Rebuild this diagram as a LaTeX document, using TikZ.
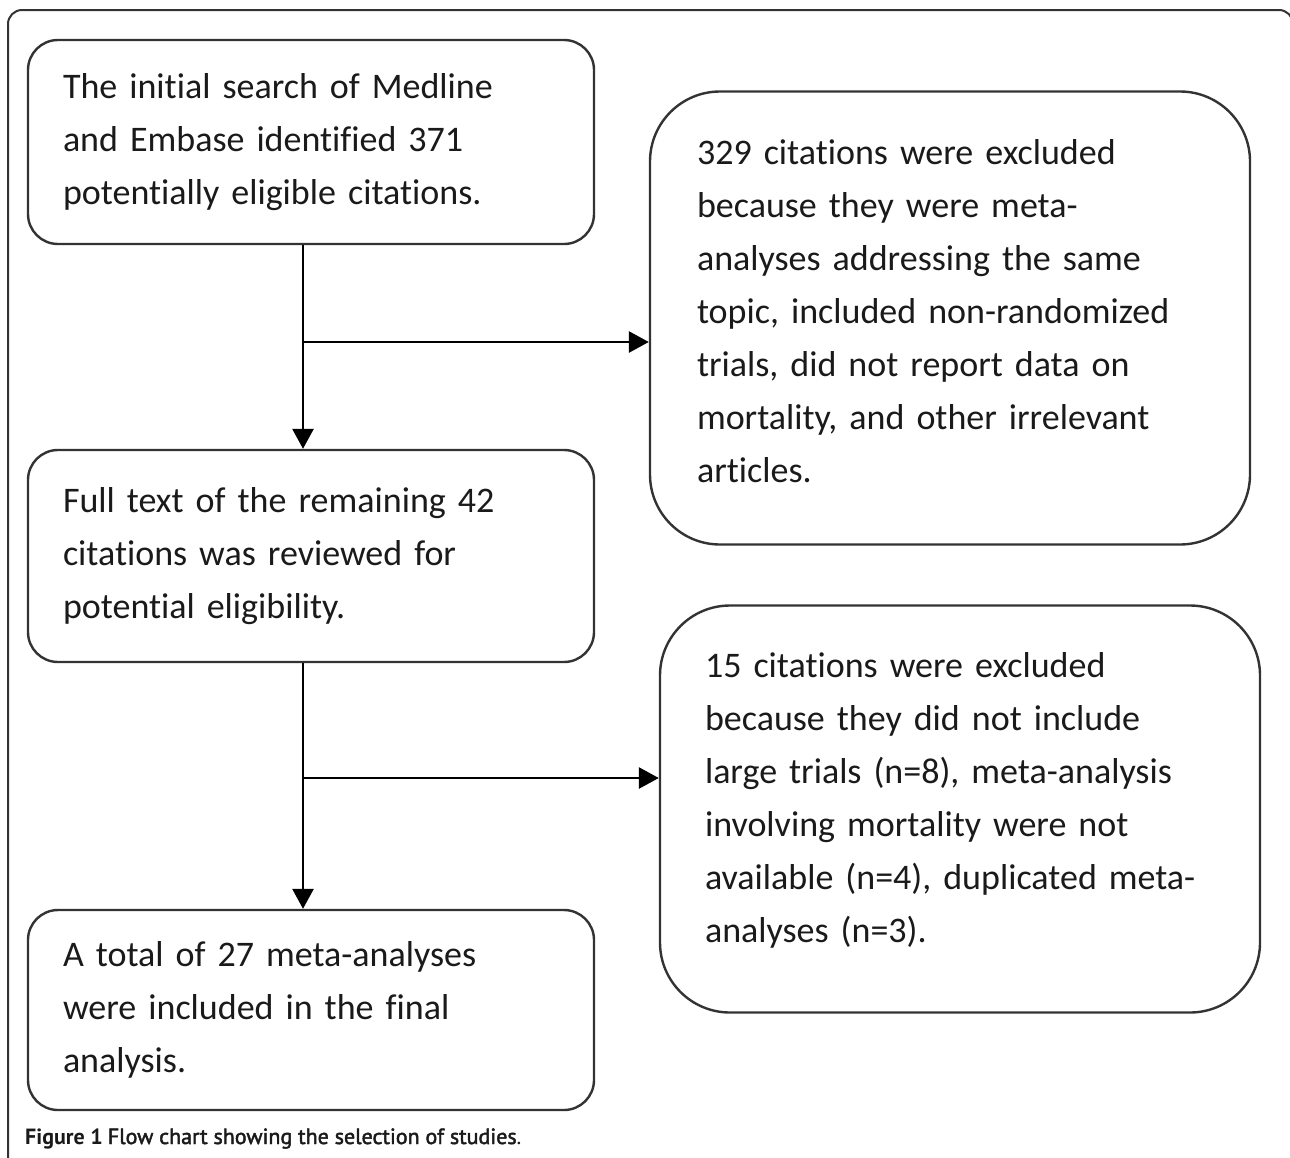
\documentclass[tikz,border=0pt]{standalone}
\usepackage{fontspec}
\setmainfont{Carlito}[Ligatures=CommonOff]
\newfontfamily\capfont{PT Sans}
\newfontfamily\capmid{PT Sans}[BoldFont={PT Sans},BoldFeatures={FakeBold=2}]
\usetikzlibrary{arrows.meta}
\definecolor{ink}{HTML}{1A1A1A}
\definecolor{edge}{HTML}{333333}
\begin{document}
\begin{tikzpicture}[x=1pt,y=-1pt,
  box/.style={draw=edge,line width=2.4pt,rounded corners=#1,align=left,
    text=ink,font=\fontsize{36}{53}\selectfont,anchor=center},
  flow/.style={draw=black,line width=2.8pt,-{Triangle[length=20pt,width=21pt]}}]
\useasboundingbox (0,0) rectangle (1290,1157);
\fill[white] (0,0) rectangle (1290,1157);
% outer frame
\draw[edge,line width=2pt,rounded corners=14pt] (8,1170) -- (8,10) -- (1293,10) -- (1293,60);

\node[box=30pt,minimum width=566pt,minimum height=204pt,inner xsep=35pt,text width=496pt] (b1) at (311,142)
 {The initial search of Medline\\and Embase identified 371\\potentially eligible citations.};
\node[box=30pt,minimum width=566pt,minimum height=212pt,inner xsep=35pt,text width=496pt] (b3) at (311,556)
 {Full text of the remaining 42\\citations was reviewed for\\potential eligibility.};
\node[box=30pt,minimum width=566pt,minimum height=200pt,inner xsep=35pt,text width=496pt] (b5) at (311,1010)
 {A total of 27 meta-analyses\\were included in the final\\analysis.};
\node[box=70pt,minimum width=600pt,minimum height=453pt,inner xsep=47pt,text width=506pt] (b2) at (950,318)
 {329 citations were excluded\\because they were meta-\\analyses addressing the same\\topic, included non-randomized\\trials, did not report data on\\mortality, and other irrelevant\\articles.\rule[-14pt]{0pt}{1pt}};
\node[box=70pt,minimum width=600pt,minimum height=407pt,inner xsep=45pt,text width=510pt] (b4) at (960,809)
 {15 citations were excluded\\because they did not include\\large trials (n=8), meta-analysis\\involving mortality were not\\available (n=4), duplicated meta-\\analyses (n=3).\rule[-24pt]{0pt}{1pt}};

\coordinate (spine) at (303,0);
\coordinate (j1) at (303,342);
\coordinate (j2) at (303,778);
\draw[flow] (b1.south -| spine) -- (b3.north -| spine);
\draw[flow] (j1) -- (b2.west |- j1);
\draw[flow] (b3.south -| spine) -- (b5.north -| spine);
\draw[flow] (j2) -- (b4.west |- j2);

\node[anchor=base west,inner sep=0pt,text=ink,font=\fontsize{22}{26}\selectfont] (cap) at (25,1144)
 {{\capfont\bfseries Figure 1} {\capmid\bfseries Flow chart showing the selection of studies}{\capfont .}};
\end{tikzpicture}
\end{document}
